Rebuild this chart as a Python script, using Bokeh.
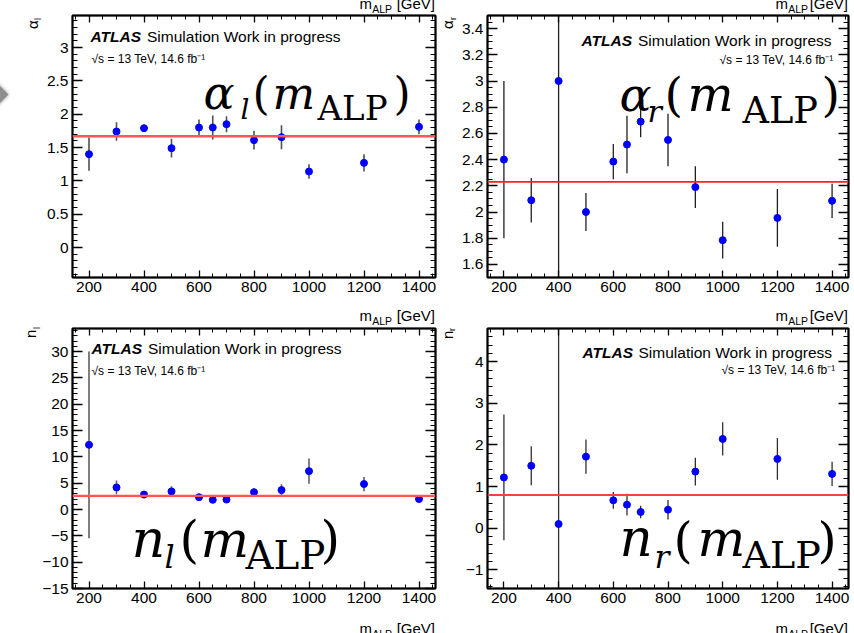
import math
from bokeh.plotting import figure
from bokeh.layouts import column, row
from bokeh.models import (ColumnDataSource, Span, Label, LinearAxis, SingleIntervalTicker,
                          CustomJSTickFormatter, Range1d, Div)
from bokeh.embed import file_html
from bokeh.resources import INLINE

# ---------------- data ----------------
mass = [200, 300, 400, 500, 600, 650, 700, 800, 900, 1000, 1200, 1400]

alpha_l = [1.40, 1.74, 1.79, 1.49, 1.80, 1.80, 1.85, 1.61, 1.655, 1.14, 1.27, 1.81]
alpha_l_err = [0.25, 0.14, 0.03, 0.14, 0.12, 0.18, 0.12, 0.14, 0.18, 0.11, 0.13, 0.11]
alpha_l_fit = 1.67

alpha_r = [2.40, 2.09, 3.00, 2.00, 2.385, 2.515, 2.69, 2.55, 2.19, 1.785, 1.955, 2.085]
alpha_r_err = [0.60, 0.17, 2.50, 0.145, 0.135, 0.22, 0.12, 0.20, 0.16, 0.14, 0.22, 0.13]
alpha_r_fit = 2.23

n_l = [12.3, 4.2, 2.85, 3.45, 2.35, 1.85, 1.9, 3.3, 3.7, 7.3, 4.85, 2.0]
n_l_err = [17.75, 1.3, 0.35, 1.0, 0.4, 0.5, 0.4, 0.7, 1.1, 2.4, 1.35, 0.2]
n_l_fit = 2.58

n_r = [1.22, 1.50, 0.10, 1.72, 0.67, 0.565, 0.39, 0.445, 1.36, 2.145, 1.665, 1.305]
n_r_err = [1.51, 0.47, 10.0, 0.41, 0.20, 0.26, 0.15, 0.235, 0.335, 0.40, 0.50, 0.29]
n_r_fit = 0.80

x_title = ["m", "ALP", "[GeV]"]
atlas_text = ["ATLAS", "Simulation Work in progress", "\u221As = 13 TeV, 14.6 fb\u207B\u00B9"]

X_RANGE = (140, 1460)
PAGE_W, PAGE_H = 854, 633
DIV_SHIFT = 10   # measured offset of the overlay container

SANS = "Liberation Sans"
SERIF = "DejaVu Serif"
K_BASE = 0.35   # empirical shift of Bokeh's alphabetic baseline

TICK_FMT = """
const v = Math.round(tick * 1000) / 1000;
return v < 0 ? '\u2212' + String(-v) : String(v);
"""


def style_axis(ax, tick_in, minor_in, labels):
    ax.major_tick_in = tick_in
    ax.major_tick_out = 0
    ax.minor_tick_in = minor_in
    ax.minor_tick_out = 0
    ax.axis_line_color = "black"
    ax.axis_line_width = 1.5
    ax.major_tick_line_color = "black"
    ax.major_tick_line_width = 1.3
    ax.minor_tick_line_color = "black"
    ax.minor_tick_line_width = 1
    if labels:
        ax.formatter = CustomJSTickFormatter(code=TICK_FMT)
        ax.major_label_text_font = SANS
        ax.major_label_text_font_size = "15.5px"
        ax.major_label_text_color = "black"
        ax.major_label_standoff = 4
    else:
        ax.formatter = CustomJSTickFormatter(code="return '';")
        ax.major_label_standoff = 0


def make_fig(origin, w, h, borders, y_range, y_int, y_minor, vals, errs, fit,
             err_color, err_width, fit_color, fit_width):
    bl, br, bt, bb = borders
    p = figure(width=w, height=h, x_range=Range1d(*X_RANGE), y_range=Range1d(*y_range),
               output_backend="svg", toolbar_location=None,
               min_border_left=bl, min_border_right=br, min_border_top=bt, min_border_bottom=bb)
    p.xgrid.visible = False
    p.ygrid.visible = False
    p.outline_line_color = "black"
    p.outline_line_width = 2
    p.background_fill_color = "white"
    p.border_fill_color = "white"

    xt = SingleIntervalTicker(interval=200, num_minor_ticks=4)
    yt = SingleIntervalTicker(interval=y_int, num_minor_ticks=y_minor)
    p.xaxis[0].ticker = xt
    p.yaxis[0].ticker = yt
    style_axis(p.xaxis[0], 7, 4, True)
    style_axis(p.yaxis[0], 10, 5, True)
    top = LinearAxis(ticker=xt)
    right = LinearAxis(ticker=yt)
    style_axis(top, 7, 4, False)
    style_axis(right, 10, 5, False)
    p.add_layout(top, "above")
    p.add_layout(right, "right")

    src = ColumnDataSource(dict(x=mass, y=vals,
                                lo=[v - e for v, e in zip(vals, errs)],
                                hi=[v + e for v, e in zip(vals, errs)]))
    p.add_layout(Span(location=fit, dimension="width", line_color=fit_color, line_width=fit_width))
    p.segment(x0="x", y0="lo", x1="x", y1="hi", source=src, line_color=err_color, line_width=err_width)
    p.scatter(x="x", y="y", source=src, size=7, fill_color="#0000ff", line_color="#0000ff")

    ox, oy = origin
    fl = ox + bl
    fb = oy + h - bb

    def lab(X, Y, text, size, font=SANS, style="normal", align="left", color="black"):
        Ya = Y - K_BASE * size
        p.add_layout(Label(x=X - fl, y=fb - Ya, x_units="screen", y_units="screen", text=text,
                           text_font=font, text_font_size=f"{size:.1f}px", text_font_style=style,
                           text_align=align, text_baseline="alphabetic", text_color=color))
    return p, lab


def math_label(lab, xs, base, sym, sub, s, sym_scale):
    # xs: starts of [sym, sub, "(", "m", "ALP", ")"]; s: scale
    bs, ss, ps, As = 40 * s, 28 * s, 44 * s, 34 * s
    pc = base - 0.3 * bs
    pb = pc + 0.28 * ps
    lab(xs[0], base, sym, bs * sym_scale, font=SERIF, style="italic")
    lab(xs[1], base + 10 * s, sub, ss, font=SERIF, style="italic")
    lab(xs[2], pb, "(", ps, font=SERIF)
    lab(xs[3], base, "m", 45 * s, font=SERIF, style="italic")
    lab(xs[4], base + 11 * s, "ALP", As, font=SERIF)
    lab(xs[5], pb, ")", ps, font=SERIF)


def atlas(lab, x0, x1, y0, x2, y2):
    lab(x0, y0, atlas_text[0], 15.5, style="bold italic")
    lab(x1, y0, atlas_text[1], 15.5)
    lab(x2, y2, atlas_text[2], 12)


# ---- top left ----
p1, l1 = make_fig((0, 0), 440, 324, (72, 5, 15, 47), (-0.45, 3.48), 0.5, 5,
                  alpha_l, alpha_l_err, alpha_l_fit, "#505050", 1.6, "#ff5555", 2.5)
atlas(l1, 90, 146.5, 41, 91, 63)
math_label(l1, [203, 240, 252, 272, 317, 393], 108.5, "\u03B1", "l", 1.0, 1.15)

# ---- top right ----
p2, l2 = make_fig((440, 0), 414, 324, (47, 6, 15, 47), (1.5, 3.5), 0.2, 4,
                  alpha_r, alpha_r_err, alpha_r_fit, "#202020", 1.3, "#ff2020", 1.6)
atlas(l2, 581, 637.5, 45, 719, 64)
math_label(l2, [619, 647, 664, 687, 742, 821], 110.5, "\u03B1", "r", 1.08, 1.1)

# ---- bottom left ----
p3, l3 = make_fig((0, 324), 440, 309, (72, 5, 4, 45), (-15, 34.4), 5, 5,
                  n_l, n_l_err, n_l_fit, "#606060", 1.6, "#ff5555", 2.2)
atlas(l3, 91, 147.5, 353, 91, 375)
math_label(l3, [131, 164, 179, 200, 245, 320], 556, "n", "l", 1.14, 1.15)

# ---- bottom right ----
p4, l4 = make_fig((440, 324), 414, 309, (47, 6, 4, 45), (-1.45, 4.8), 1, 5,
                  n_r, n_r_err, n_r_fit, "#303030", 1.3, "#ff4040", 2.0)
atlas(l4, 582, 638, 357, 721, 374)
math_label(l4, [619, 654, 673, 697, 742, 817], 556, "n", "r", 1.12, 1.15)


# ---------- texts outside the frames (axis titles), as an HTML overlay ----------
def hspan(x, y_base, text, size, align="left"):
    top = y_base - 0.8465 * size
    pos = f"left:{x}px;" if align == "left" else f"right:{PAGE_W - x}px;"
    return (f'<div style="position:absolute;{pos}top:{top:.1f}px;font-family:\'{SANS}\';'
            f'font-size:{size}px;line-height:{size}px;white-space:nowrap;color:black;">{text}</div>')


def vspan(left, start_y, text, size):
    return (f'<div style="position:absolute;left:{left}px;top:{start_y}px;'
            f'transform:rotate(-90deg);transform-origin:0 0;font-family:\'{SANS}\';'
            f'font-size:{size}px;line-height:{size}px;white-space:nowrap;color:black;">{text}</div>')


def xt_html(m_r, alp_r, gev_r, base):
    return (hspan(m_r, base, x_title[0], 15, "right") +
            hspan(alp_r, base + 4, x_title[1], 10.5, "right") +
            hspan(gev_r, base, x_title[2], 15, "right"))


parts = []
for base in (7, 319):
    parts.append(xt_html(372, 392, 435, base))
    parts.append(xt_html(788, 808, 848, base))
parts.append(xt_html(372, 392, 435, 632))
parts.append(xt_html(788, 808, 848, 632))
# y-axis titles (rotated, at the top of each left axis)
parts.append(vspan(25, 27, "\u03B1", 15) + vspan(34, 18, "l", 9))
parts.append(vspan(440, 27, "\u03B1", 15) + vspan(449, 18, "r", 9))
parts.append(vspan(23, 336, "n", 15) + vspan(33, 327, "l", 9))
parts.append(vspan(440, 337, "n", 15) + vspan(448, 329, "r", 9))
# grey slide arrow at the left edge
parts.append('<div style="position:absolute;left:-12px;top:83.5px;width:17px;height:17px;'
             'background:#8e8e8e;transform:rotate(45deg);box-shadow:0 0 4px #9a9a9a;"></div>')

overlay_html = (f'<div style="position:relative;width:{PAGE_W}px;height:0px;'
                f'top:-{PAGE_H + DIV_SHIFT}px;z-index:1000;">' + "".join(parts) + '</div>')
overlay = Div(text=overlay_html, width=PAGE_W, height=0, margin=(0, 0, 0, 0))

layout = column(row(p1, p2), row(p3, p4), overlay)

with open("out.html", "w", encoding="utf-8") as f:
    f.write(file_html(layout, INLINE))
